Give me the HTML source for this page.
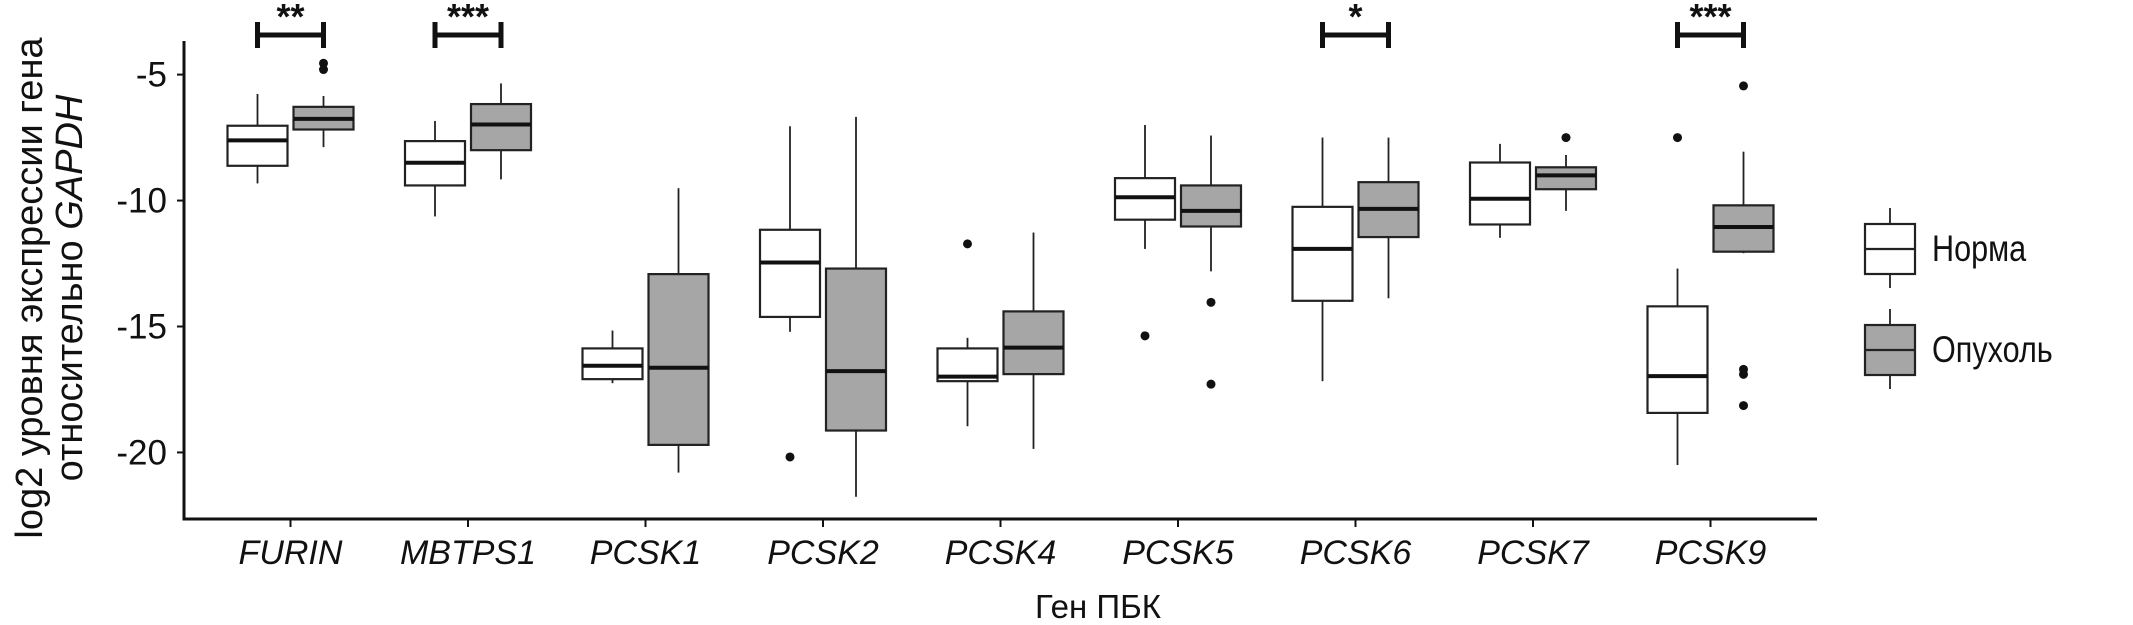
<!DOCTYPE html>
<html><head><meta charset="utf-8"><style>
html,body{margin:0;padding:0;background:#fff;}
svg{display:block;}
text{font-family:"Liberation Sans",sans-serif;fill:#111;}
</style></head><body>
<svg id="chart" width="2133" height="625" viewBox="0 0 2133 625" xmlns="http://www.w3.org/2000/svg">
<g id="axes"></g>
<g id="boxes"></g>
<g id="sig"></g>
<g id="legend"></g>
</svg>
<script>
const categories=["FURIN","MBTPS1","PCSK1","PCSK2","PCSK4","PCSK5","PCSK6","PCSK7","PCSK9"];
// [whiskerLow, q1, median, q3, whiskerHigh]
const normaStats=[
[-9.32,-8.62,-7.61,-7.03,-5.77],
[-10.63,-9.4,-8.5,-7.64,-6.84],
[-17.25,-17.09,-16.56,-15.87,-15.16],
[-15.21,-14.62,-12.46,-11.16,-7.05],
[-18.96,-17.17,-16.99,-15.87,-15.45],
[-11.92,-10.76,-9.87,-9.11,-7.0],
[-17.17,-13.98,-11.92,-10.25,-7.5],
[-11.48,-10.95,-9.93,-8.49,-7.75],
[-20.5,-18.43,-16.97,-14.2,-12.7]];
const tumorStats=[
[-7.88,-7.18,-6.76,-6.28,-5.85],
[-9.16,-8.0,-6.98,-6.17,-5.35],
[-20.8,-19.7,-16.64,-12.92,-9.51],
[-21.76,-19.13,-16.77,-12.7,-6.68],
[-19.86,-16.89,-15.84,-14.4,-11.27],
[-12.81,-11.03,-10.41,-9.4,-7.42],
[-13.88,-11.45,-10.33,-9.27,-7.5],
[-10.41,-9.55,-9.0,-8.68,-8.19],
[-12.09,-12.03,-11.05,-10.19,-8.06]];
const normaOutliers=[[],[],[],[-20.18],[-11.72],[-15.37],[],[],[-7.5]];
const tumorOutliers=[[-4.55,-4.8],[],[],[],[],[-14.04,-17.29],[],[-7.5],[-5.45,-16.7,-16.9,-18.14]];
const yTicks=[-5,-10,-15,-20];
const sigCats=[0,1,6,8];
const sigLabels=["**","***","*","***"];

const NS="http://www.w3.org/2000/svg";
const X0=184,X1=1817,BAND=177.5;
function xC(i){return X0+BAND*(0.6+i);}
function yS(v){return 74.6+(-5-v)*25.19;}
function mk(p,tag,at){const e=document.createElementNS(NS,tag);for(const k in at)e.setAttribute(k,at[k]);p.appendChild(e);return e;}
const axes=document.getElementById('axes'),boxes=document.getElementById('boxes'),sig=document.getElementById('sig'),leg=document.getElementById('legend');

let l=mk(axes,'line',{x1:X0,y1:41,x2:X0,y2:520,stroke:'#111','stroke-width':3});

l=mk(axes,'line',{x1:X0-1.5,y1:519,x2:X1,y2:519,stroke:'#111','stroke-width':3});

yTicks.forEach(v=>{
 let t=mk(axes,'line',{x1:X0-7,y1:yS(v),x2:X0,y2:yS(v),stroke:'#111','stroke-width':2});
 
 let tx=mk(axes,'text',{x:167,y:yS(v)+12,'text-anchor':'end','font-size':35});
 tx.textContent=String(v);
 
});
categories.forEach((c,i)=>{
 let t=mk(axes,'line',{x1:xC(i),y1:519,x2:xC(i),y2:527,stroke:'#111','stroke-width':2});
 
 let tx=mk(axes,'text',{x:xC(i),y:564,'text-anchor':'middle','font-size':34,'font-style':'italic'});
 tx.textContent=c;
 
});
let xt=mk(axes,'text',{x:1098,y:618,'text-anchor':'middle','font-size':33});xt.textContent='Ген ПБК';

let yt=mk(axes,'text',{x:0,y:0,'text-anchor':'middle','font-size':38,transform:'translate(42,288) rotate(-90)'});
yt.textContent='log2 уровня экспрессии гена';

let yt2=mk(axes,'text',{x:0,y:0,'text-anchor':'middle','font-size':38,transform:'translate(82,288) rotate(-90)'});
yt2.innerHTML='относительно <tspan font-style="italic">GAPDH</tspan>';


function drawBox(g,cx,w,s,fill){
 mk(g,'line',{x1:cx,y1:yS(s[4]),x2:cx,y2:yS(s[3]),stroke:'#222','stroke-width':1.8});
 mk(g,'line',{x1:cx,y1:yS(s[1]),x2:cx,y2:yS(s[0]),stroke:'#222','stroke-width':1.8});
 mk(g,'rect',{x:cx-w/2,y:yS(s[3]),width:w,height:yS(s[1])-yS(s[3]),fill:fill,stroke:'#222','stroke-width':2.2});
 mk(g,'line',{x1:cx-w/2,y1:yS(s[2]),x2:cx+w/2,y2:yS(s[2]),stroke:'#111','stroke-width':4});
}
categories.forEach((c,i)=>{
 const gn=mk(boxes,'g',{});
 
 drawBox(gn,xC(i)-33,60,normaStats[i],'#fff');
 normaOutliers[i].forEach(v=>{let d=mk(gn,'circle',{cx:xC(i)-33,cy:yS(v),r:4.5,fill:'#111'});
  });
 const gt=mk(boxes,'g',{});
 
 drawBox(gt,xC(i)+33,60,tumorStats[i],'#a6a6a6');
 tumorOutliers[i].forEach(v=>{let d=mk(gt,'circle',{cx:xC(i)+33,cy:yS(v),r:4.5,fill:'#111'});
  });
});
sigCats.forEach((ci,k)=>{
 const g=mk(sig,'g',{});
 
 const a=xC(ci)-33,b=xC(ci)+33;
 mk(g,'line',{x1:a,y1:35,x2:b,y2:35,stroke:'#111','stroke-width':5});
 mk(g,'line',{x1:a,y1:22,x2:a,y2:48,stroke:'#111','stroke-width':5});
 mk(g,'line',{x1:b,y1:22,x2:b,y2:48,stroke:'#111','stroke-width':5});
 const t=mk(g,'text',{x:(a+b)/2,y:29,'text-anchor':'middle','font-size':36,'font-weight':'bold'});t.textContent=sigLabels[k];
});
function legKey(name,label,y0,fill){
 const g=mk(leg,'g',{});
 
 mk(g,'line',{x1:1890,y1:y0-16,x2:1890,y2:y0+64,stroke:'#222','stroke-width':1.8});
 mk(g,'rect',{x:1865,y:y0,width:50,height:50,fill:fill,stroke:'#222','stroke-width':2.2});
 mk(g,'line',{x1:1865,y1:y0+25,x2:1915,y2:y0+25,stroke:'#222','stroke-width':2.2});
 const t=mk(g,'text',{x:0,y:0,'font-size':34,transform:'translate(1932,'+(y0+37)+') scale(0.9,1.1)'});t.textContent=label;
}
legKey('legend-entry-norma','Норма',224,'#fff');
legKey('legend-entry-tumor','Опухоль',325,'#a6a6a6');
</script>
</body></html>
